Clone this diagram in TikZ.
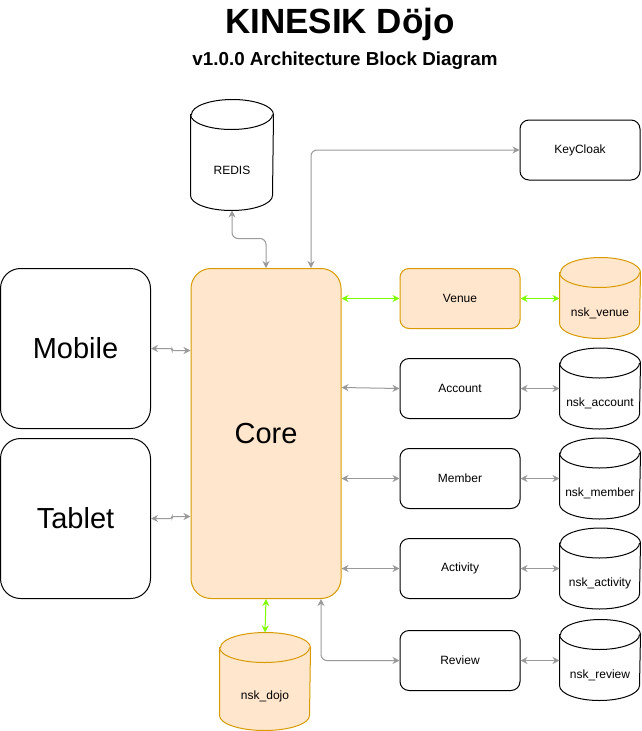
\documentclass[tikz,border=0pt]{standalone}
\usepackage{fontspec}
\setmainfont{Liberation Sans}
\usetikzlibrary{positioning}
\usetikzlibrary{arrows.meta}
\definecolor{coreFill}{HTML}{FFE6CC}
\definecolor{coreLine}{HTML}{D79B00}
\definecolor{linkGreen}{HTML}{80FF00}
\definecolor{linkGray}{HTML}{999999}

% cylinder outline over a named box: name, x radius, style, text
\newcommand{\drawstore}[4]{%
  \draw[#3] ([yshift=-15pt]#1.north west) -- ([yshift=15pt]#1.south west)
    arc[start angle=180,end angle=360,x radius=#2pt,y radius=15pt]
    -- ([yshift=-15pt]#1.north east)
    arc[start angle=0,end angle=180,x radius=#2pt,y radius=15pt] -- cycle;
  \draw[#3,fill=none] ([yshift=-15pt]#1.north west)
    arc[start angle=180,end angle=360,x radius=#2pt,y radius=15pt];
  \node at ([yshift=-15pt]#1.center) {#4};
}

\begin{document}
\begin{tikzpicture}[x=1pt,y=-1pt,line width=1pt,font=\fontsize{12}{14}\selectfont,
  block/.style={draw=black,fill=white,rounded corners=9pt,minimum width=120pt,minimum height=60pt,inner sep=0pt},
  device/.style={draw=black,fill=white,rounded corners=20pt,minimum width=150pt,minimum height=160pt,inner sep=0pt,font=\fontsize{29}{34}\selectfont},
  store/.style={minimum width=80pt,minimum height=80pt,inner sep=0pt},
  plain/.style={draw=black,fill=white},
  hot/.style={draw=coreLine,fill=coreFill},
  grayLink/.style={draw=linkGray,{Stealth[length=7pt,width=7pt]}-{Stealth[length=7pt,width=7pt]}},
  greenLink/.style={draw=linkGreen,{Stealth[length=7pt,width=7pt]}-{Stealth[length=7pt,width=7pt]}}]
\useasboundingbox (0,0) rectangle (641,731);

\node[font=\bfseries\fontsize{35}{40}\selectfont,anchor=base] (title) at (340,33) {KINESIK Döjo};
\node[font=\bfseries\fontsize{18.8}{22}\selectfont,anchor=base] (subtitle) at (345,65) {v1.0.0 Architecture Block Diagram};

\node[device] (mobile) at (75.5,348.5) {Mobile};
\node[device] (tablet) at (75.5,518.5) {Tablet};
\node[device,hot,minimum height=330pt] (core) at (266,433.5) {Core};

\node[store,minimum width=82pt,minimum height=110pt] (redis) at (232,155) {};
\drawstore{redis}{41}{plain}{REDIS}
\node[block] (keycloak) at (580,150) {KeyCloak};

\node[block,hot] (venue) at (460,298.5) {Venue};
\node[block] (account) at (460,388.5) {Account};
\node[block] (member) at (460,478.5) {Member};
\node[block] (activity) at (460,568.5) {Activity};
\node[block] (review) at (460,660.5) {Review};

\node[store] (nskvenue) at (600,298) {};
\drawstore{nskvenue}{40}{hot}{nsk\_venue}
\node[store] (nskaccount) at (600,388.5) {};
\drawstore{nskaccount}{40}{plain}{nsk\_account}
\node[store] (nskmember) at (600,478.5) {};
\drawstore{nskmember}{40}{plain}{nsk\_member}
\node[store] (nskactivity) at (600,568.5) {};
\drawstore{nskactivity}{40}{plain}{nsk\_activity}
\node[store] (nskreview) at (600,660) {};
\drawstore{nskreview}{40}{plain}{nsk\_review}
\node[store,minimum width=90pt,minimum height=97pt] (nskdojo) at (265,681.5) {};
\drawstore{nskdojo}{45}{hot}{nsk\_dojo}

% clients
\draw[grayLink,rounded corners=2pt] (mobile.east) -- ++(21,0) |- ([yshift=-2pt]mobile.east -| core.west);
\draw[grayLink,rounded corners=2pt] (tablet.east) -- ++(21,0) |- ([yshift=2pt]tablet.east -| core.west);

% cache and auth
\draw[grayLink,rounded corners=6pt] (redis.south) -- ++(0,28) -| (core.north);
\draw[grayLink,rounded corners=6pt] ([xshift=45pt]core.north) |- (keycloak.west);

% services
\draw[greenLink] (venue.west -| core.east) -- (venue.west);
\draw[greenLink] (venue.east) -- (venue.east -| nskvenue.west);
\draw[grayLink] ([yshift=1pt]account.west -| core.east) -- (account.west);
\draw[grayLink] (account.east) -- (account.east -| nskaccount.west);
\draw[grayLink] (member.west -| core.east) -- (member.west);
\draw[grayLink] (member.east) -- (member.east -| nskmember.west);
\draw[grayLink] (activity.west -| core.east) -- (activity.west);
\draw[grayLink] (activity.east) -- (activity.east -| nskactivity.west);
\draw[grayLink,rounded corners=6pt] ([xshift=55pt]core.south) |- (review.west);
\draw[grayLink] (review.east) -- (review.east -| nskreview.west);

% database
\draw[greenLink] (core.south) -- (nskdojo.north);

\end{tikzpicture}
\end{document}
